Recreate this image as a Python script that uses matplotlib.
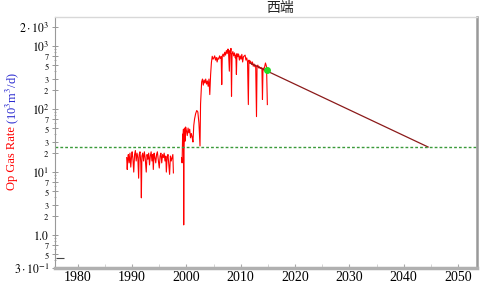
import numpy as np
import matplotlib
matplotlib.use('Agg')
import matplotlib.pyplot as plt
import matplotlib.transforms as mtransforms
from matplotlib.ticker import FixedLocator, NullFormatter

plt.rcParams['font.family'] = ['Liberation Serif', 'DejaVu Serif']
plt.rcParams['mathtext.fontset'] = 'stix'

# historical gas rate, first period
years1 = [1989.0, 1989.1, 1989.2, 1989.3, 1989.45, 1989.6, 1989.75, 1989.9, 1990.0, 1990.15,
          1990.3, 1990.45, 1990.6, 1990.75, 1990.9, 1991.05, 1991.2, 1991.3, 1991.45, 1991.6,
          1991.7, 1991.8, 1991.95, 1992.1, 1992.25, 1992.4, 1992.6, 1992.75, 1992.9, 1993.05,
          1993.2, 1993.35, 1993.5, 1993.65, 1993.8, 1993.9, 1994.05, 1994.2, 1994.35, 1994.5,
          1994.65, 1994.8, 1995.0, 1995.15, 1995.3, 1995.45, 1995.6, 1995.75, 1995.9, 1996.05,
          1996.2, 1996.3, 1996.45, 1996.6, 1996.75, 1996.9, 1997.05, 1997.2, 1997.35, 1997.5,
          1997.6]
rate1 = [17, 11, 16, 19, 14, 20, 12, 18, 21, 16,
         10, 19, 22, 15, 20, 17, 8, 19, 21, 14,
         3.9, 18, 20, 15, 21, 17, 10, 19, 16, 20,
         13, 18, 21, 15, 19, 11, 20, 17, 14, 19,
         21, 16, 11.6, 18, 20, 14, 19, 17, 20, 15,
         18, 10, 17, 19, 13, 9.2, 18, 15, 17, 19,
         9.7]

# historical gas rate, second period
years2 = [1999.1, 1999.2, 1999.3, 1999.35, 1999.45, 1999.5, 1999.55, 1999.65, 1999.75, 1999.85,
          2000.0, 2000.15, 2000.3, 2000.45, 2000.6, 2000.75, 2000.9, 2001.05, 2001.2, 2001.35,
          2001.5, 2001.7, 2001.9, 2002.1, 2002.3, 2002.5, 2002.6, 2002.8, 2002.95, 2003.1,
          2003.25, 2003.4, 2003.55, 2003.7, 2003.85, 2004.0, 2004.15, 2004.3, 2004.45, 2004.6,
          2004.75, 2004.9, 2005.05, 2005.2, 2005.35, 2005.5, 2005.65, 2005.8, 2005.95, 2006.1,
          2006.25, 2006.4, 2006.5, 2006.6, 2006.75, 2006.9, 2007.05, 2007.2, 2007.35, 2007.5,
          2007.65, 2007.75, 2007.9, 2008.0, 2008.1, 2008.2, 2008.3, 2008.4, 2008.55, 2008.7,
          2008.85, 2009.0, 2009.1, 2009.2, 2009.3, 2009.45, 2009.6, 2009.75, 2009.9, 2010.05,
          2010.2, 2010.35, 2010.5, 2010.65, 2010.8, 2010.95, 2011.1, 2011.25, 2011.4, 2011.5,
          2011.65, 2011.8, 2012.0, 2012.15, 2012.3, 2012.45, 2012.6, 2012.75, 2012.9, 2013.0,
          2013.15, 2013.3, 2013.45, 2013.6, 2013.75, 2013.9, 2014.0, 2014.1, 2014.25, 2014.4,
          2014.55, 2014.75, 2014.9]
rate2 = [17, 14, 40, 32, 48, 1.45, 22, 50, 31, 52,
         45, 38, 50, 42, 48, 35, 41, 36, 30, 55,
         70, 85, 95, 90, 60, 26, 120, 270, 300, 240,
         290, 260, 300, 250, 280, 230, 300, 170, 350, 550,
         690, 620, 650, 700, 600, 660, 560, 650, 620, 700,
         640, 680, 245, 700, 750, 680, 800, 720, 850, 760,
         900, 820, 400, 850, 780, 920, 160, 750, 820, 700,
         780, 650, 720, 355, 760, 680, 750, 600, 700, 620,
         740, 560, 680, 700, 720, 600, 650, 560, 118, 600,
         540, 580, 510, 560, 480, 520, 470, 500, 76, 480,
         500, 450, 470, 440, 460, 430, 142, 450, 420, 470,
         540, 470, 118]

# forecast decline
fc_years = [2011.7, 2044.5]
fc_rate = [540, 25]
last_point = (2014.9, 420)
econ_limit = 25

ytick_vals = [0.3, 0.5, 0.7, 1, 2, 3, 5, 7, 10, 20, 30, 50, 70,
              100, 200, 300, 500, 700, 1000, 2000]
ytick_labels = [r'$3\cdot10^{-1}$', '$5$', '$7$', '$1.0$', '$2$', '$3$', '$5$', '$7$',
                r'$10^{1}$', '$2$', '$3$', '$5$', '$7$', r'$10^{2}$', '$2$', '$3$', '$5$',
                '$7$', r'$10^{3}$', r'$2\cdot10^{3}$']
big_labels = [0.3, 1, 10, 100, 1000, 2000]
xtick_vals = [1980, 1990, 2000, 2010, 2020, 2030, 2040, 2050]

fig = plt.figure(figsize=(4.86, 2.85), dpi=100)
ax = fig.add_axes([55/486, 17/285, 422/486, 251/285])

yrs = years1 + [np.nan] + years2
rts = rate1 + [np.nan] + rate2
ax.plot(yrs, rts, color='red', lw=0.8)
ax.plot(fc_years, fc_rate, color='#8b1a1a', lw=0.9)
ax.plot([last_point[0]], [last_point[1]], 'o', color='#22dd22', ms=4)
ax.axhline(econ_limit, color='#3a9a3a', lw=1.0, ls=(0, (2, 1.5)))
ax.plot([1976.7], [0.43], marker='_', ms=6, color='#444444', mew=0.8)

ax.set_yscale('log')
ax.set_ylim(0.3, 2900)
ax.set_xlim(1975.8, 2053.5)

# y ticks
ax.yaxis.set_major_locator(FixedLocator(ytick_vals))
ax.yaxis.set_minor_locator(FixedLocator([0.4, 0.6, 0.8, 0.9, 4, 6, 8, 9, 40, 60, 80, 90,
                                         400, 600, 800, 900]))
ax.yaxis.set_minor_formatter(NullFormatter())
ax.set_yticklabels(ytick_labels)
up = mtransforms.ScaledTranslation(0, 2/100, fig.dpi_scale_trans)
down = mtransforms.ScaledTranslation(0, -1.5/100, fig.dpi_scale_trans)
for lab, v in zip(ax.get_yticklabels(), ytick_vals):
    if v in big_labels:
        lab.set_fontsize(8.5)
        if v in (10, 100, 1000):
            lab.set_transform(lab.get_transform() + up)
    else:
        lab.set_fontsize(6)
        if v in (7, 70, 700):
            lab.set_transform(lab.get_transform() + down)
ax.tick_params(axis='y', which='major', direction='inout', length=4, width=0.6,
               color='#888888', pad=2)
ax.tick_params(axis='y', which='minor', direction='inout', length=2, width=0.5,
               color='#888888')

# x ticks
ax.set_xticks(xtick_vals)
ax.set_xticks([1985, 1995, 2005, 2015, 2025, 2035, 2045], minor=True)
ax.set_xticklabels([str(v) for v in xtick_vals], fontsize=10)
ax.tick_params(axis='x', which='major', direction='in', length=3, color='#aaaaaa', pad=2)
ax.tick_params(axis='x', which='minor', direction='in', length=3, color='#cccccc')

ax.spines['bottom'].set_color('#b0b0b0')
ax.spines['bottom'].set_linewidth(2.5)
ax.spines['right'].set_color('#999999')
ax.spines['right'].set_linewidth(1.8)
ax.spines['top'].set_color('#d8d8d8')
ax.spines['top'].set_linewidth(1.0)
ax.spines['left'].set_color('#999999')
ax.spines['left'].set_linewidth(0.8)

fig.text(280/486, 1 - 8/285, '西端', family=['Noto Sans CJK SC', 'DejaVu Sans'],
         fontsize=10, ha='center', va='center', color='#222222')
fig.text(12/486, 1 - 190/285, 'Op Gas Rate', color='red', rotation=90,
         ha='center', va='bottom', fontsize=9)
fig.text(12/486, 1 - 124/285, r'(10$^{3}$m$^{3}$/d)', color='#2a2ad0', rotation=90,
         ha='center', va='bottom', fontsize=9)

fig.savefig('out.png', dpi=100)
